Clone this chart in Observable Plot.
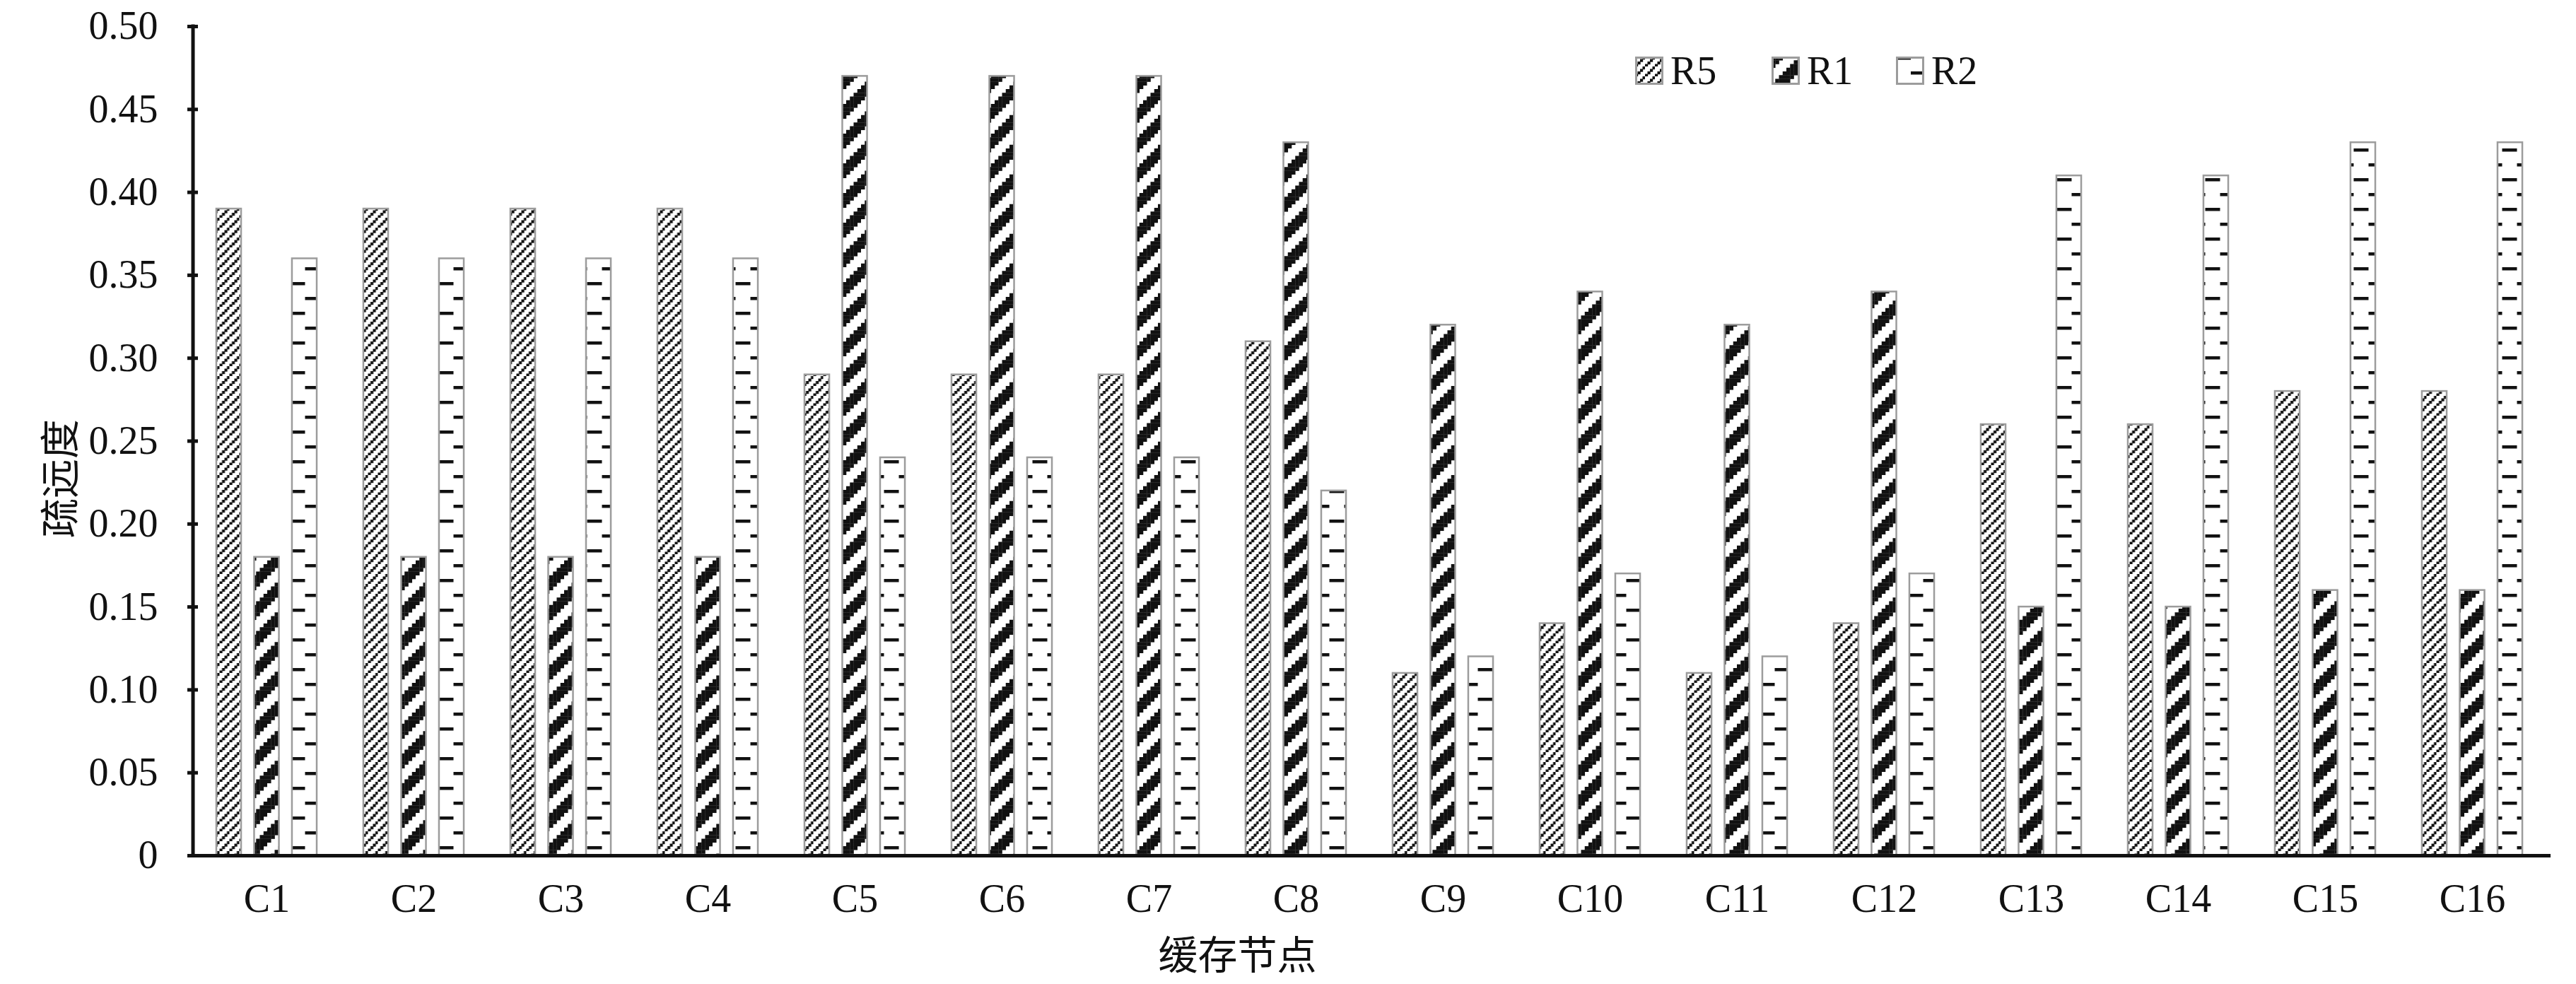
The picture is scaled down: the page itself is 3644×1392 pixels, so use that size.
<!DOCTYPE html>
<html>
<head>
<meta charset="utf-8">
<script src="https://cdn.jsdelivr.net/npm/d3@7"></script>
<script src="https://cdn.jsdelivr.net/npm/@observablehq/plot@0.6"></script>
<style>
  html, body { margin: 0; padding: 0; background: #fff; }
  #wrap { position: relative; width: 3644px; height: 1392px; }
  #chart { position: absolute; left: 0; top: 0; }
  .legend { position: absolute; top: 68px; left: 0; font-family: 'Liberation Serif', 'Times New Roman', serif; font-size: 56px; color: #111; }
  .legend .item { position: absolute; display: flex; align-items: center; white-space: nowrap; }
  .legend svg { margin-right: 10px; }
  #ylabel { position: absolute; left: 81px; top: 677px; transform: translate(-50%, -50%) rotate(-90deg);
    font-family: 'Noto Sans CJK SC', sans-serif; font-size: 56px; line-height: 1; color: #111; white-space: nowrap; }
</style>
</head>
<body>
<svg width="0" height="0" style="position:absolute">
  <defs id="pdefs"></defs>
</svg>
<div id="wrap">
  <div id="chart"></div>
  <div class="legend" id="legend"></div>
  <div id="ylabel"></div>
</div>
<script>
// ---- data ----
const categories = ["C1","C2","C3","C4","C5","C6","C7","C8","C9","C10","C11","C12","C13","C14","C15","C16"];
const seriesNames = ["R5", "R1", "R2"];
const r5 = [0.39, 0.39, 0.39, 0.39, 0.29, 0.29, 0.29, 0.31, 0.11, 0.14, 0.11, 0.14, 0.26, 0.26, 0.28, 0.28];
const r1 = [0.18, 0.18, 0.18, 0.18, 0.47, 0.47, 0.47, 0.43, 0.32, 0.34, 0.32, 0.34, 0.15, 0.15, 0.16, 0.16];
const r2 = [0.36, 0.36, 0.36, 0.36, 0.24, 0.24, 0.24, 0.22, 0.12, 0.17, 0.12, 0.17, 0.41, 0.41, 0.43, 0.43];
const yTicks = [0, 0.05, 0.10, 0.15, 0.20, 0.25, 0.30, 0.35, 0.40, 0.45, 0.50];
const xLabel = "缓存节点";
const yLabel = "疏远度";

// ---- patterns ----
const NS = "http://www.w3.org/2000/svg";
const defs = document.getElementById("pdefs");
function pattern(id, size, rects) {
  const p = document.createElementNS(NS, "pattern");
  p.setAttribute("id", id);
  p.setAttribute("patternUnits", "userSpaceOnUse");
  p.setAttribute("width", size);
  p.setAttribute("height", size);
  const bg = document.createElementNS(NS, "rect");
  bg.setAttribute("width", size); bg.setAttribute("height", size); bg.setAttribute("fill", "#fff");
  p.appendChild(bg);
  for (const [x, y, w, h] of rects) {
    const r = document.createElementNS(NS, "rect");
    r.setAttribute("x", x); r.setAttribute("y", y);
    r.setAttribute("width", w); r.setAttribute("height", h);
    r.setAttribute("fill", "#111");
    p.appendChild(r);
  }
  defs.appendChild(p);
}
// R5: light upward diagonal of small squares
{
  const s = 3.5, d = 4.2, rects = [];
  for (let k = 0; k < 4; k++) rects.push([(3 - k) * s, k * s, d, d]);
  rects.push([-0.7, 3 * s + 0.7, d, d]);
  pattern("pat-R5", 4 * s, rects);
}
// R1: wide upward diagonal (stair stripes)
{
  const s = 5.25, rects = [];
  for (let r = 0; r < 8; r++) for (let k = 0; k < 4; k++) {
    const c = (7 - r + k) % 8;
    rects.push([c * s, r * s, s + 0.3, s + 0.3]);
  }
  pattern("pat-R1", 8 * s, rects);
}
// R2: dashed horizontal
pattern("pat-R2", 42, [[0, 0, 21, 4.5], [21, 21, 21, 4.5]]);

// ---- layout ----
const W = 3644, H = 1392;
const mL = 265, mR = 36, mT = 37, mB = 182;
const plotW = W - mL - mR;
const step = plotW / categories.length;
const barW = 36;
const offsets = {R5: -53.5, R1: 0, R2: 53.5};
const data = categories.map((c, i) => ({cat: c, R5: r5[i], R1: r1[i], R2: r2[i]}));

const serif = "'Liberation Serif', 'Times New Roman', serif";
const cjk = "'Noto Sans CJK SC', sans-serif";

const barMarks = seriesNames.map(name => Plot.barY(data, {
  x: "cat",
  y: name,
  fill: `url(#pat-${name})`,
  stroke: "#9c9c9c",
  strokeWidth: 2.5,
  insetLeft: (step - barW) / 2,
  insetRight: (step - barW) / 2,
  dx: offsets[name]
}));

const chart = Plot.plot({
  width: W,
  height: H,
  marginLeft: mL,
  marginRight: mR,
  marginTop: mT,
  marginBottom: mB,
  style: {fontFamily: serif, fontSize: "56px", background: "#fff", color: "#111"},
  x: {domain: categories, padding: 0, label: null},
  y: {domain: [0, 0.5], label: null},
  marks: [
    ...barMarks,
    Plot.axisX({tickSize: 0, tickPadding: 40, fontSize: 56, label: null, fontFamily: serif}),
    Plot.axisY({ticks: yTicks, tickSize: 0, tickPadding: 42, fontSize: 56, label: null, fontFamily: serif,
      tickFormat: d => d === 0 ? "0" : d.toFixed(2)}),
    Plot.ruleY(yTicks, {y: d => d, insetRight: plotW - 15, strokeWidth: 5, stroke: "#111"}),
    Plot.ruleY([0], {strokeWidth: 5, stroke: "#111"}),
    Plot.ruleX([categories[0]], {dx: -step / 2, strokeWidth: 5, stroke: "#111", strokeLinecap: "square"}),
    Plot.text([xLabel], {text: d => d, frameAnchor: "bottom", dx: 1750 - (mL + plotW / 2), dy: 160,
      fontSize: 56, fontFamily: cjk, fill: "#111"})
  ]
});
document.getElementById("chart").appendChild(chart);
document.getElementById("ylabel").textContent = yLabel;

// ---- legend ----
const legendPos = {R5: 2313, R1: 2506, R2: 2682};
const legend = document.getElementById("legend");
for (const name of seriesNames) {
  const item = document.createElement("div");
  item.className = "item";
  item.style.left = legendPos[name] + "px";
  item.innerHTML = `<svg width="40" height="40"><rect x="1.5" y="1.5" width="37" height="37" fill="url(#pat-${name})" stroke="#9c9c9c" stroke-width="3"/></svg><span>${name}</span>`;
  legend.appendChild(item);
}
</script>
</body>
</html>
